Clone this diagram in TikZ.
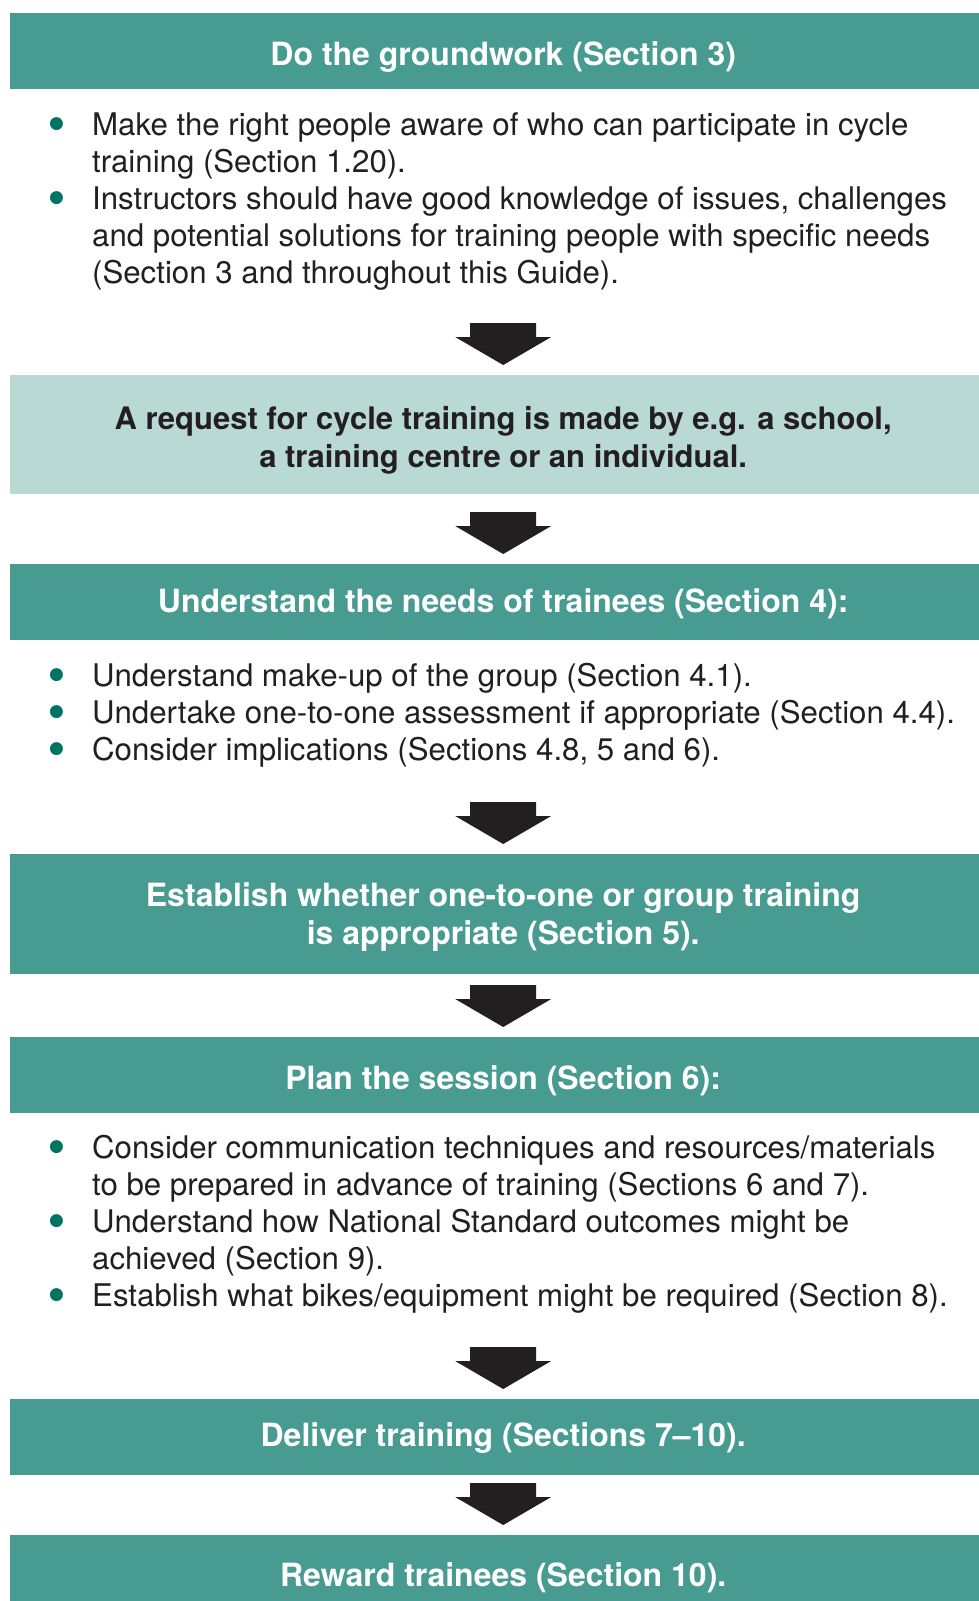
\documentclass[tikz,border=0pt]{standalone}
\usepackage{fontspec}
\setmainfont{TeX Gyre Heros}
\newfontfamily\symfont{DejaVu Sans}
\usetikzlibrary{calc}
\definecolor{teal1}{HTML}{479B91}
\definecolor{lteal}{HTML}{B9D9D4}
\definecolor{dotc}{HTML}{007462}
\definecolor{ink}{HTML}{231F20}
\newcommand{\bt}{\hspace*{-1pt}\raisebox{6.5pt}{\textcolor{dotc}{\symfont\fontsize{17}{20}\selectfont ●}}}
\newcommand{\blockarrow}[1]{\fill[barrow] ($(#1)+(-33,0)$) -- ++(66,0) -- ++(0,14) -- ++(15,0) -- ++(-48,28) -- ++(-48,-28) -- ++(15,0) -- cycle;}
\begin{document}
\begin{tikzpicture}[x=1pt,y=-1pt,
  hbox/.style={fill=teal1, minimum width=986pt, minimum height=76pt, anchor=north west, inner sep=0pt},
  lbox/.style={hbox, fill=lteal, minimum height=119pt},
  tbox/.style={hbox, minimum height=120pt},
  htext/.style={text=white, font=\bfseries\fontsize{32}{38}\selectfont, inner sep=0pt, align=center},
  ltext/.style={htext, text=ink, font=\bfseries\fontsize{31}{38}\selectfont},
  bul/.style={anchor=base west, inner sep=0pt, text=ink, font=\fontsize{31.2}{37}\selectfont},
  barrow/.style={fill=ink}]
\useasboundingbox (0,0) rectangle (979,1601);
\fill[white] (0,0) rectangle (979,1601);

% boxes
\node[hbox] (h1) at (10,13) {};
\node[lbox] (h2) at (10,375) {};
\node[hbox] (h3) at (10,564) {};
\node[tbox] (h4) at (10,854) {};
\node[hbox] (h5) at (10,1037) {};
\node[hbox] (h6) at (10,1399) {};
\node[hbox] (h7) at (10,1535) {};

% box texts
\node[htext] (t1) at ([yshift=-6pt]h1.center) {Do the groundwork (Section 3)};
\node[ltext] (t2) at ([yshift=-5.5pt]h2.center) {A request for cycle training is made by e.g. a school,\\ a training centre or an individual.};
\node[htext] (t3) at ([yshift=-2pt]h3.center) {Understand the needs of trainees (Section 4):};
\node[htext] (t4) at ([yshift=-3pt]h4.center) {Establish whether one-to-one or group training\\ is appropriate (Section 5).};
\node[htext] (t5) at ([yshift=-6pt]h5.center) {Plan the session (Section 6):};
\node[htext] (t6) at ([yshift=-1pt]h6.center) {Deliver training (Sections 7–10).};
\node[htext] (t7) at ([yshift=-5pt]h7.center) {Reward trainees (Section 10).};

% bullet lists
\node[bul] (b1) at (50,135) {\begin{tabular}[t]{@{}p{42pt}@{}l@{}}
\bt & Make the right people aware of who can participate in cycle\\
 & training (Section 1.20).\\
\bt & Instructors should have good knowledge of issues, challenges\\
 & and potential solutions for training people with specific needs\\
 & (Section 3 and throughout this Guide).
\end{tabular}};
\node[bul] (b2) at (50,686) {\begin{tabular}[t]{@{}p{42pt}@{}l@{}}
\bt & Understand make-up of the group (Section 4.1).\\
\bt & Undertake one-to-one assessment if appropriate (Section 4.4).\\
\bt & Consider implications (Sections 4.8, 5 and 6).
\end{tabular}};
\node[bul] (b3) at (50,1158) {\begin{tabular}[t]{@{}p{42pt}@{}l@{}}
\bt & Consider communication techniques and resources/materials\\
 & to be prepared in advance of training (Sections 6 and 7).\\
\bt & Understand how National Standard outcomes might be\\
 & achieved (Section 9).\\
\bt & Establish what bikes/equipment might be required (Section 8).
\end{tabular}};

% block arrows between boxes
\coordinate (a1) at ([yshift=52pt]h2.north);
\coordinate (a2) at ([yshift=52pt]h3.north);
\coordinate (a3) at ([yshift=52pt]h4.north);
\coordinate (a4) at ([yshift=52pt]h5.north);
\coordinate (a5) at ([yshift=52pt]h6.north);
\coordinate (a6) at ([yshift=52pt]h7.north);
\blockarrow{a1}
\blockarrow{a2}
\blockarrow{a3}
\blockarrow{a4}
\blockarrow{a5}
\blockarrow{a6}
\end{tikzpicture}
\end{document}
